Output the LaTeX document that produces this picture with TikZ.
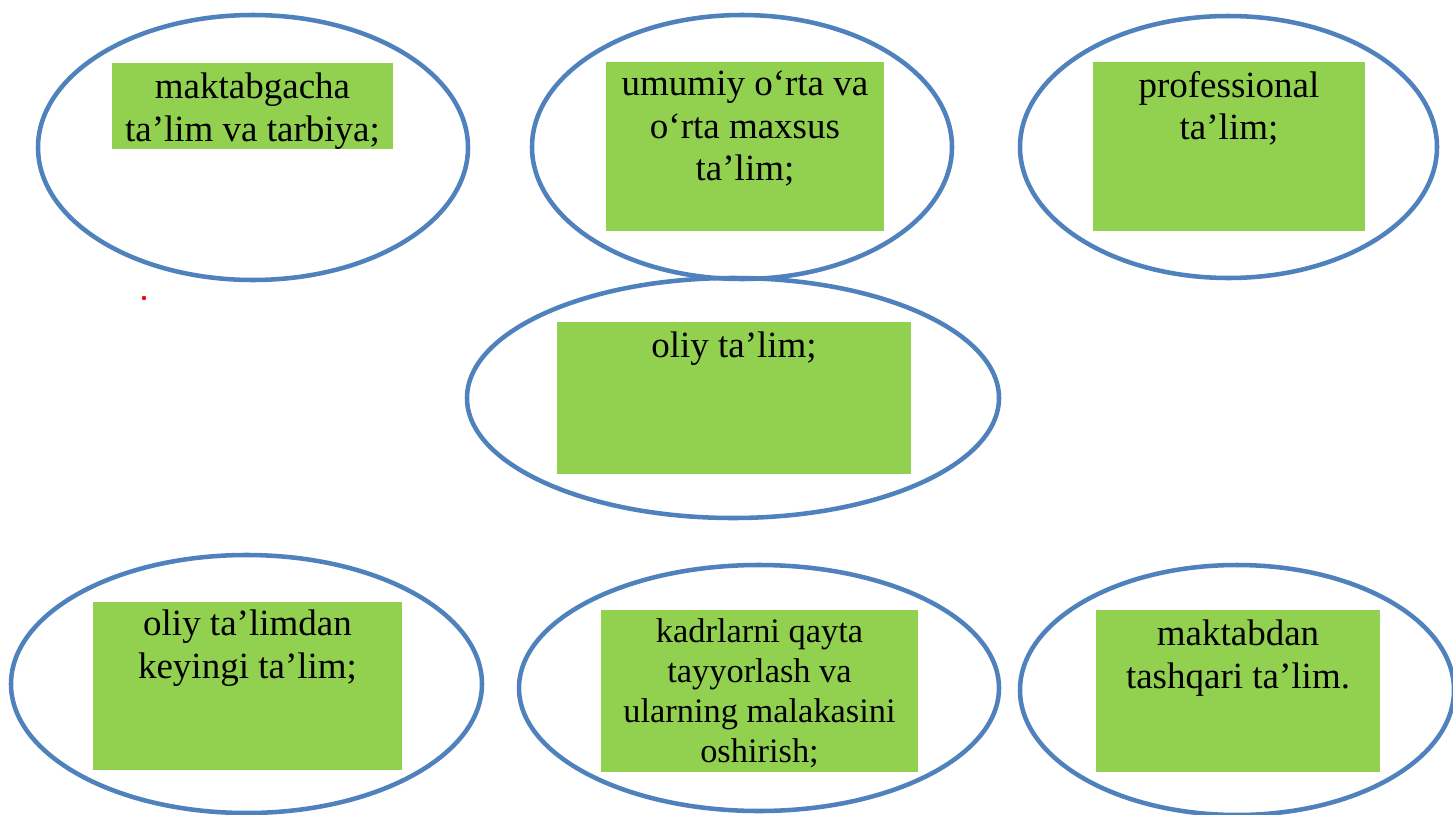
\documentclass[tikz,border=0pt]{standalone}
\usepackage{fontspec}
\setmainfont{Liberation Serif}
\usepackage{tikz}

\definecolor{ringblue}{RGB}{79,129,189}
\definecolor{padgreen}{RGB}{146,208,80}

\begin{document}
\begin{tikzpicture}[x=0.75pt,y=0.75pt,yscale=-1,
    ring/.style={draw=ringblue,line width=3.4pt},
    pad/.style={fill=padgreen},
    caption/.style={anchor=north,inner sep=0pt,align=center,
      font=\fontsize{27.75}{31.8}\selectfont},
    smallcaption/.style={caption,font=\fontsize{25.8}{30}\selectfont}]
    \useasboundingbox (0,0) rectangle (1453,814);
    
    %Ellipses
    \draw[ring] (253,147.5) ellipse (215 and 132.5);
    \draw[ring] (742,147) ellipse (210 and 132);
    \draw[ring] (1228.5,147) ellipse (208.5 and 131);
    \draw[ring] (733,398) ellipse (266 and 120);
    \draw[ring] (246.5,684) ellipse (235.5 and 129);
    \draw[ring] (759,688) ellipse (240 and 123);
    \draw[ring] (1237,690) ellipse (217 and 125);
    
    %Rectangles
    \fill[pad] (112,63) rectangle (393,149);
    \fill[pad] (606,62) rectangle (884,231);
    \fill[pad] (1093,62) rectangle (1365,231);
    \fill[pad] (557,322) rectangle (911,474);
    \fill[pad] (93,602) rectangle (402,770);
    \fill[pad] (601,610) rectangle (918,772);
    \fill[pad] (1096,610) rectangle (1380,772);
    
    %Dot
    \fill[red] (144,298) circle (2.2);
    
    %Texts
    \node[caption] (maktabgacha) at (252.5,73) {maktabgacha\\ta’lim va tarbiya;};
    \node[caption] (umumiy) at (745,71) {umumiy o‘rta va\\o‘rta maxsus\\ta’lim;};
    \node[caption] (professional) at (1229,71) {professional\\ta’lim;};
    \node[caption] (oliy) at (734,332) {oliy ta’lim;};
    \node[caption] (keyingi) at (247.5,610) {oliy ta’limdan\\keyingi ta’lim;};
    \node[smallcaption] (kadrlar) at (759.5,618.5) {kadrlarni qayta\\tayyorlash va\\ularning malakasini\\oshirish;};
    \node[caption] (maktabdan) at (1238,620) {maktabdan\\tashqari ta’lim.};
    
\end{tikzpicture}
\end{document}
